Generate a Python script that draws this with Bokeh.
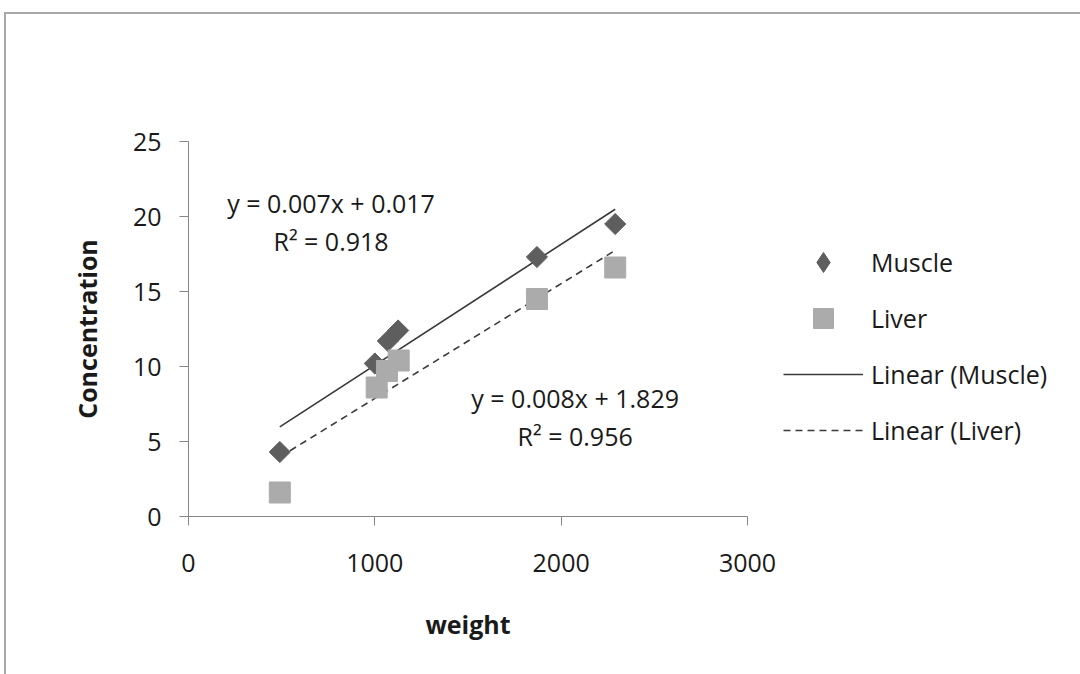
import numpy as np
from bokeh.plotting import figure
from bokeh.models import Legend, LegendItem, Label, FixedTicker, Range1d
from bokeh.embed import file_html
from bokeh.resources import INLINE

weight_muscle = [490, 1000, 1070, 1125, 1870, 2290]
conc_muscle = [4.3, 10.2, 11.7, 12.4, 17.3, 19.5]
weight_liver = [490, 1010, 1065, 1128, 1870, 2290]
conc_liver = [1.6, 8.6, 9.7, 10.4, 14.5, 16.6]
eq_muscle = ["y = 0.007x + 0.017", "R² = 0.918"]
eq_liver = ["y = 0.008x + 1.829", "R² = 0.956"]
x_ticks = [0, 1000, 2000, 3000]
y_ticks = [0, 5, 10, 15, 20, 25]

FONT = "Open Sans"
FS = "25px"
TXT = "#1a1a1a"

p = figure(frame_width=559, frame_height=375, output_backend="svg", toolbar_location=None,
           x_range=Range1d(0, 3000), y_range=Range1d(0, 25),
           min_border_left=182, min_border_right=4, min_border_top=127, min_border_bottom=162,
           styles={"margin-left": "4px", "margin-top": "12px",
                   "border-left": "2px solid #a8a8a8", "border-top": "2px solid #a8a8a8"})
p.outline_line_color = None
p.grid.visible = False
p.background_fill_color = "white"
p.border_fill_color = "white"

for ax in (p.xaxis[0], p.yaxis[0]):
    ax.axis_line_color = "#868686"
    ax.major_tick_line_color = "#868686"
    ax.minor_tick_line_color = None
    ax.major_tick_in = 0
    ax.major_tick_out = 9
    ax.major_label_text_font = FONT
    ax.major_label_text_font_size = FS
    ax.major_label_text_color = TXT
    ax.axis_label_text_font = FONT
    ax.axis_label_text_font_style = "bold"
    ax.axis_label_text_font_size = "25px"
    ax.axis_label_text_color = TXT

p.xaxis.ticker = FixedTicker(ticks=x_ticks)
p.yaxis.ticker = FixedTicker(ticks=y_ticks)
p.xaxis.axis_label = "weight"
p.yaxis.axis_label = "Concentration"
p.xaxis.major_label_standoff = 28
p.yaxis.major_label_standoff = 18
p.xaxis.axis_label_standoff = 32
p.yaxis.axis_label_standoff = 26

# trend lines (least-squares fit of the data)
def fit_line(xs, ys):
    m, b = np.polyfit(xs, ys, 1)
    xx = np.array([min(xs), max(xs)])
    return xx, m * xx + b

xm, ym = fit_line(weight_muscle, conc_muscle)
xl, yl = fit_line(weight_liver, conc_liver)

r_lm = p.line(xm, ym, line_color="#3a3a3a", line_width=1.6)
r_ll = p.line(xl, yl, line_color="#3a3a3a", line_width=1.6, line_dash="7 5")

r_m = p.scatter(weight_muscle, conc_muscle, marker="square", angle=np.pi / 4, size=15,
                fill_color="#5e5e5e", line_color="#5e5e5e")
r_l = p.scatter(weight_liver, conc_liver, marker="square", size=21,
                fill_color="#ababab", line_color="#ababab")
# legend swatch for the diamond markers (legend ignores marker rotation)
r_m_key = p.scatter(weight_muscle, conc_muscle, marker="diamond", size=20,
                    fill_color="#5e5e5e", line_color="#5e5e5e", visible=False)

legend = Legend(items=[
    LegendItem(label="Muscle", renderers=[r_m_key]),
    LegendItem(label="Liver", renderers=[r_l]),
    LegendItem(label="Linear (Muscle)", renderers=[r_lm]),
    LegendItem(label="Linear (Liver)", renderers=[r_ll]),
], location=(36, 61))
legend.glyph_width = 80
legend.glyph_height = 50
legend.label_height = 50
legend.spacing = 6
legend.padding = 0
legend.margin = 0
legend.label_standoff = 8
legend.border_line_color = None
legend.background_fill_alpha = 0
legend.inactive_fill_alpha = 0
legend.click_policy = "none"
legend.label_text_font = FONT
legend.label_text_font_size = FS
legend.label_text_color = TXT
p.add_layout(legend, "right")

for txt, x, y in [(eq_muscle[0], 765, 20.9), (eq_muscle[1], 765, 18.4),
                  (eq_liver[0], 2075, 7.9), (eq_liver[1], 2075, 5.4)]:
    p.add_layout(Label(x=x, y=y, text=txt, text_align="center", text_baseline="middle",
                       text_font=FONT, text_font_size=FS, text_color=TXT))

open("out.html", "w").write(file_html(p, INLINE))
